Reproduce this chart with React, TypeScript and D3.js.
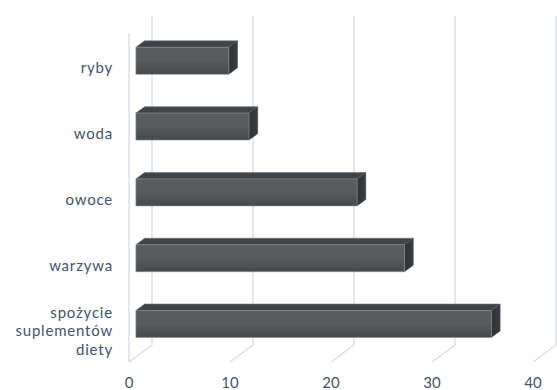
import React from "react";
import * as d3 from "d3";

const categories = ["ryby", "woda", "owoce", "warzywa", "spożycie suplementów diety"];
const values = [9.2, 11.2, 21.9, 26.6, 35.2];
const ticks = [0, 10, 20, 30, 40];

const W = 557, H = 390;
const DX = 23, DY = -17;
const FRONT_TOP = 33, FRONT_BOTTOM = 362;
const T0 = 0.3, T1 = 0.68;
const FONT = "Lato, Carlito, 'Open Sans', sans-serif";
const TEXT = "#44546a";
const GRID = "#d6dbe2";

export default function App() {
  const x = d3.scaleLinear().domain([0, 40]).range([129, 533]);
  const y = d3.scaleBand<string>().domain(categories).range([FRONT_TOP, FRONT_BOTTOM]).paddingInner(0).paddingOuter(0);
  const bw = y.bandwidth();
  const barH = bw * 0.41;
  const P = (v: number, yy: number, t: number): [number, number] => [x(v) + DX * t, yy + DY * t];
  const poly = (pts: [number, number][]) => pts.map((p) => p.join(",")).join(" ");

  return (
    <svg width={W} height={H} style={{ position: "absolute", left: 0, top: 0, background: "#fff" }}>
      <defs>
        <linearGradient id="front" x1="0" y1="0" x2="0" y2="1">
          <stop offset="0" stopColor="#5a5d60" />
          <stop offset="0.5" stopColor="#585b5e" />
          <stop offset="1" stopColor="#46494b" />
        </linearGradient>
        <linearGradient id="side" x1="0" y1="0" x2="1" y2="0">
          <stop offset="0" stopColor="#2f3235" />
          <stop offset="1" stopColor="#3a3d40" />
        </linearGradient>
      </defs>
      <line x1={x(0)} x2={x(0)} y1={FRONT_TOP} y2={FRONT_BOTTOM} stroke={GRID} strokeWidth={1.3} />
      {ticks.map((t) => {
        const [bx, by] = P(t, FRONT_BOTTOM, 1);
        const [tx, ty] = P(t, FRONT_TOP, 1);
        const [fx, fy] = P(t, FRONT_BOTTOM, 0);
        return (
          <g key={t}>
            <line x1={tx} x2={bx} y1={ty} y2={by} stroke={GRID} strokeWidth={1.3} />
            <line x1={bx} x2={fx} y1={by} y2={fy} stroke={GRID} strokeWidth={1.3} />
          </g>
        );
      })}
      {categories.map((c, i) => {
        const cy = (y(c) as number) + bw / 2;
        const top = cy - barH / 2, bot = cy + barH / 2;
        const v = values[i];
        const f = poly([P(0, top, T0), P(v, top, T0), P(v, bot, T0), P(0, bot, T0)]);
        const tp = poly([P(0, top, T0), P(v, top, T0), P(v, top, T1), P(0, top, T1)]);
        const sd = poly([P(v, top, T0), P(v, top, T1), P(v, bot, T1), P(v, bot, T0)]);
        return (
          <g key={c}>
            <polygon points={tp} fill="#414447" stroke="#6b6e71" strokeWidth={0.6} />
            <polygon points={sd} fill="url(#side)" stroke="#555" strokeWidth={0.5} />
            <polygon points={f} fill="url(#front)" stroke="#8a8d90" strokeWidth={0.6} />
          </g>
        );
      })}
      {categories.map((c) => {
        const cy = (y(c) as number) + bw / 2 + 2;
        const words = c.split(" ");
        const lh = 18.5;
        return (
          <text key={c} x={113} y={cy} textAnchor="end" fontFamily={FONT} fontSize={15} letterSpacing={0.8} fill={TEXT}>
            {words.map((w, j) => (
              <tspan key={j} x={113} y={cy + (j - (words.length - 1) / 2) * lh} dy="0.35em">
                {w}
              </tspan>
            ))}
          </text>
        );
      })}
      {ticks.map((t) => (
        <text key={t} x={x(t)} y={388} textAnchor="middle" fontFamily={FONT} fontSize={15} fill={TEXT}>
          {t}
        </text>
      ))}
    </svg>
  );
}
